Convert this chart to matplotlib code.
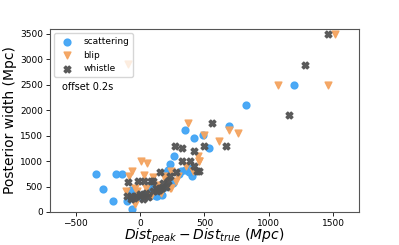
#!/usr/bin/env python3

from matplotlib import pyplot as plt
import numpy as np

# values
scat_dx = [-345, -288, -211, -185, -138, -99, -64, -68, -30, 10, 40, 74, 74, 87, 126, 130, 172,
           190, 190, 216, 236, 254, 260, 345, 415, 345, 371, 404, 488, 533, 694, 825, 1192,
           300, 320, 150, 100, 60, -20, 430, 380]
scat_w  = [750, 452, 210, 755, 755, 210, 50, 440, 380, 300, 350, 310, 536, 408, 310, 320, 330,
           491, 763, 821, 950, 569, 1106, 1604, 1450, 821, 873, 698, 1506, 1248, 1700, 2096, 2496,
           750, 800, 450, 550, 420, 350, 800, 780]

blip_dx = [-107, -87, -64, -43, -43, 4, 29, 50, 48, 74, 87, 99, 130, 182, 198, 229, 239, 242,
           291, 353, 371, 409, 448, 456, 461, 500, 611, 694, 763, 1071, 1458, 1512, -20, 160,
           280, 190, -95]
blip_w  = [420, 698, 808, 472, 161, 1002, 718, 957, 472, 310, 310, 679, 520, 698, 601, 472, 808,
           472, 698, 912, 1753, 808, 1106, 1002, 1009, 1506, 1403, 1603, 1553, 2496, 2496, 3500,
           420, 380, 600, 666, 2900]

whis_dx = [-99, -95, -68, -68, -29, -17, -4, 22, 29, 48, 87, 99, 126, 130, 151, 164, 177, 234,
           270, 280, 324, 329, 391, 420, 422, 440, 461, 500, 557, 668, 1153, 1277, 1458, -50, 0,
           60, 100, 200, 220, 170, 150]
whis_w  = [310, 595, 310, 245, 310, 601, 310, 245, 601, 375, 601, 601, 472, 408, 795, 472, 569,
           698, 1300, 795, 1002, 1248, 1002, 1196, 912, 808, 808, 1300, 1753, 1306, 1902, 2898,
           3500, 280, 350, 300, 420, 500, 600, 480, 430]

fig, ax = plt.subplots(figsize=(3.99, 2.45), dpi=100)
fig.subplots_adjust(left=0.125, right=0.9, bottom=0.135, top=0.882)

ax.scatter(scat_dx, scat_w, s=24, marker='o', color='#42a5f5', alpha=0.95, label='scattering')
ax.scatter(blip_dx, blip_w, s=24, marker='v', color='#f4a460', alpha=0.95, label='blip')
ax.scatter(whis_dx, whis_w, s=24, marker='X', color='#555555', alpha=0.95, label='whistle')

ax.text(-605, 2450, 'offset 0.2s', fontsize=7, va='center')

ax.set_xlim(-700, 1700)
ax.set_ylim(0, 3600)
ax.set_xticks([-500, 0, 500, 1000, 1500])
ax.set_yticks(np.arange(0, 3501, 500))
ax.tick_params(labelsize=6.5, length=3, width=0.6, pad=2)
for sp in ax.spines.values():
    sp.set_color('#555555')

ax.set_xlabel(r'$Dist_{peak} - Dist_{true}\ (Mpc)$', fontsize=10, labelpad=-1)
ax.set_ylabel('Posterior width (Mpc)', fontsize=10, labelpad=2)
ax.legend(loc='upper left', fontsize=6.5, framealpha=0.8, borderpad=0.4, handletextpad=0.8)

plt.savefig('out.png')
